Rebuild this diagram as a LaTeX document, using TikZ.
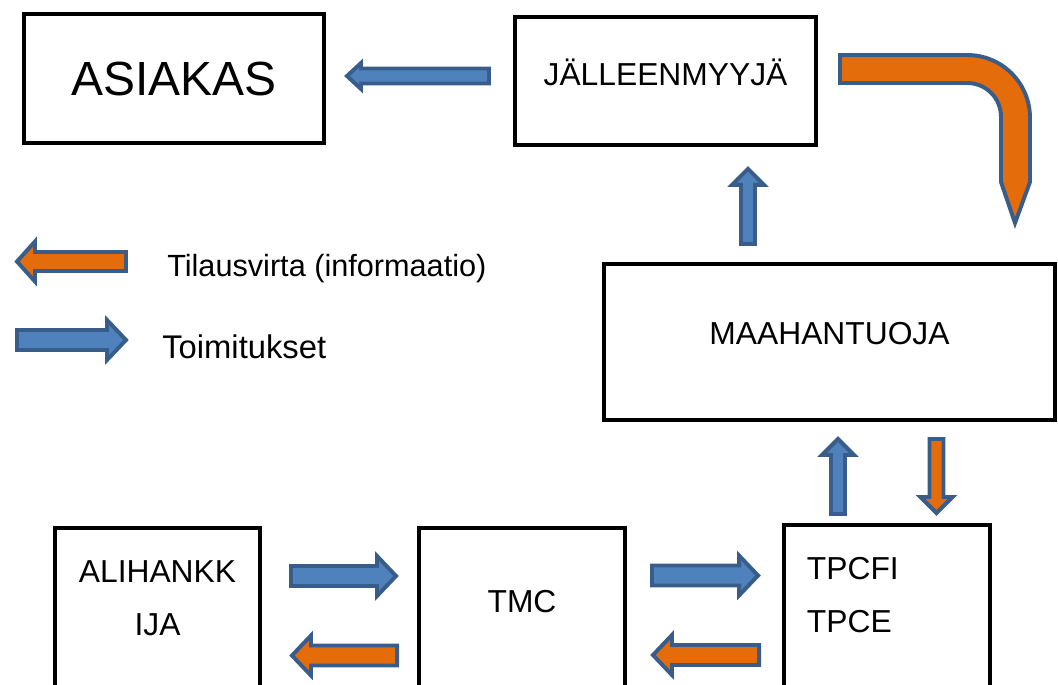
\documentclass[tikz,border=0pt]{standalone}
\usepackage{fontspec}
\setmainfont{Liberation Sans}
\usepackage{tikz}
\usetikzlibrary{calc}

\definecolor{flowblue}{HTML}{4F81BD}
\definecolor{floworange}{HTML}{E46C0A}
\definecolor{flowedge}{HTML}{385D8A}

\tikzset{
  box/.style={draw, line width=2.8pt, inner sep=0pt,
    font=\fontsize{22.6}{38}\selectfont},
  delivery/.style={draw=flowedge, fill=flowblue, line width=2.8pt},
  order/.style={draw=flowedge, fill=floworange, line width=2.8pt},
}

% one pixel of the layout grid
\newcommand{\pxu}{0.7113pt}
% style, tail, tip, shaft half width, head half width, head length
\newcommand{\blockarrow}[6]{%
  \path ($(#3)!{#6*\pxu}!(#2)$) coordinate (ah);
  \draw[#1] ($(#2)!{#4*\pxu}!90:(#3)$) -- ($(ah)!{#4*\pxu}!90:(#3)$)
    -- ($(ah)!{#5*\pxu}!90:(#3)$) -- (#3)
    -- ($(ah)!{#5*\pxu}!-90:(#3)$) -- ($(ah)!{#4*\pxu}!-90:(#3)$)
    -- ($(#2)!{#4*\pxu}!-90:(#3)$) -- cycle;
}

\begin{document}
\begin{tikzpicture}[x=0.025cm,y=-0.025cm]
  \useasboundingbox (0,0) rectangle (1058,684);

  \node (asiakas) [box, minimum width=213.4pt, minimum height=91.8pt,
    font=\fontsize{34.1}{40}\selectfont] at (174,78.5) {ASIAKAS};
  \node (jal) [box, minimum width=214.1pt, minimum height=91pt,
    text depth=12.1pt] at (665.5,81) {JÄLLEENMYYJÄ};
  \node (maah) [box, minimum width=320.8pt, minimum height=111pt,
    text depth=12.8pt] at (829.5,342) {MAAHANTUOJA};
  \node (ali) [box, minimum width=145.8pt, minimum height=122.3pt,
    align=center, text depth=22.8pt] at (157.5,614) {ALIHANKK\\IJA};
  \node (tmc) [box, minimum width=146.5pt, minimum height=122.3pt,
    text depth=18.5pt] at (522,614) {TMC};
  \node (tpc) [box, minimum width=146.5pt, minimum height=124.5pt,
    align=left, text width=113.8pt, text depth=63.3pt] at (887,612.5)
    {TPCFI\\TPCE};

  \node (ordtext) [anchor=base west, inner sep=0pt,
    font=\fontsize{21.8}{26}\selectfont]
    at (167,276) {Tilausvirta (informaatio)};
  \node (deltext) [anchor=base west, inner sep=0pt,
    font=\fontsize{23.3}{28}\selectfont]
    at (162,358) {Toimitukset};

  \path (jal.west) +(-24,-5) coordinate (jalo);
  \path (asiakas.east) +(21,-2.5) coordinate (asi);
  \blockarrow{delivery}{jalo}{asi}{7.5}{13}{14}

  \path (maah.north) +(-81.5,-18) coordinate (maahu);
  \path (jal.south) +(82.5,22) coordinate (jali);
  \blockarrow{delivery}{maahu}{jali}{7}{16}{16}

  \path (jal.east) +(22,-12) coordinate (bend);
  \begin{scope}[shift={(bend)}]
    \draw[order] (0,-14) -- (127,-14)
      .. controls (162,-14) and (190,14) .. (190,49)
      -- (190,113) -- (175,154) -- (161,113) -- (161,48)
      .. controls (161,29) and (146,14) .. (127,14)
      -- (0,14) -- cycle;
  \end{scope}

  \path (ali.east) +(29,-38) coordinate (alio);
  \path (tmc.west) +(-21,-38) coordinate (tmci);
  \blockarrow{delivery}{alio}{tmci}{10}{20}{19}
  \path (tmc.west) +(-20,41.5) coordinate (tmco);
  \path (ali.east) +(30,41.5) coordinate (alii);
  \blockarrow{order}{tmco}{alii}{10}{20}{19}

  \path (tmc.east) +(25,-38.5) coordinate (tmcd);
  \path (tpc.west) +(-24,-37) coordinate (tpci);
  \blockarrow{delivery}{tmcd}{tpci}{10}{20}{19}
  \path (tpc.west) +(-23,42.5) coordinate (tpco);
  \path (tmc.east) +(26,41) coordinate (tmcr);
  \blockarrow{order}{tpco}{tmcr}{10}{20}{19}

  \path (tpc.north) +(-49,-9) coordinate (tpcu);
  \path (maah.south) +(8.5,17) coordinate (maahi);
  \blockarrow{delivery}{tpcu}{maahi}{7}{16}{16}
  \path (maah.south) +(107,17) coordinate (maahd);
  \path (tpc.north) +(49.5,-10) coordinate (tpcd);
  \blockarrow{order}{maahd}{tpcd}{7}{16}{16}

  \coordinate (ordt) at (126,261.5);
  \coordinate (ordh) at (17,261.5);
  \blockarrow{order}{ordt}{ordh}{9.5}{20}{18}
  \coordinate (delt) at (17,340);
  \coordinate (delh) at (126,340);
  \blockarrow{delivery}{delt}{delh}{10}{20}{19}
\end{tikzpicture}
\end{document}
